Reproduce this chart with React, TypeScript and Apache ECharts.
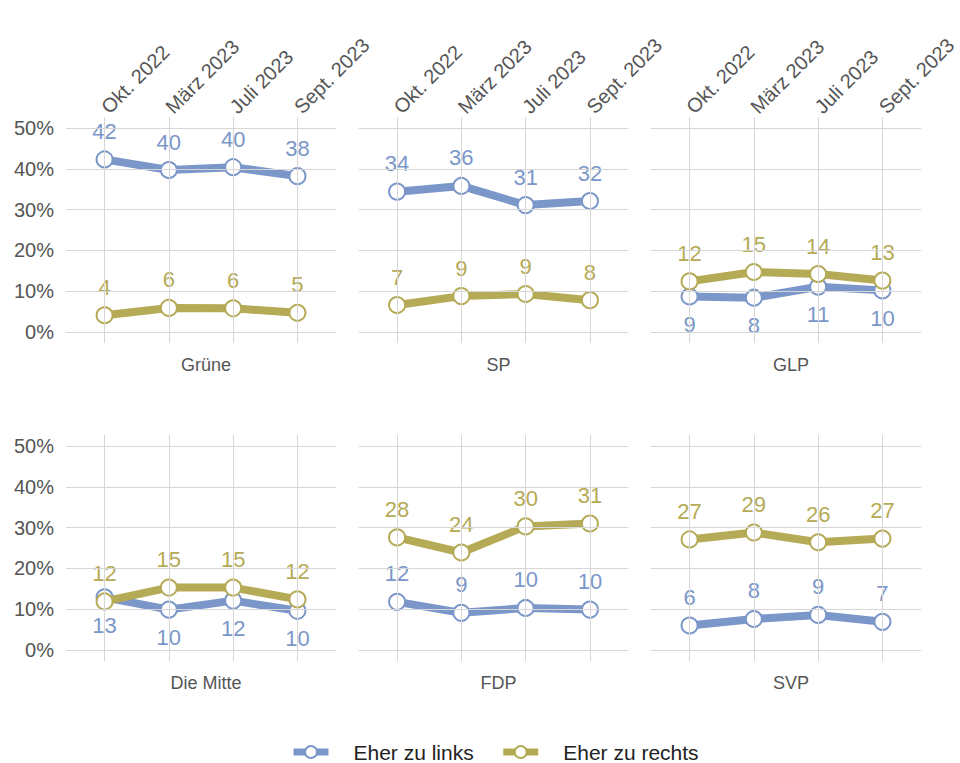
import React, { useEffect, useRef } from 'react';
import * as echarts from 'echarts';

const periods = ['Okt. 2022', 'März 2023', 'Juli 2023', 'Sept. 2023'];
const parties = ['Grüne', 'SP', 'GLP', 'Die Mitte', 'FDP', 'SVP'];
const seriesNames = ['Eher zu links', 'Eher zu rechts'];
const leftValues = [
  [42.3, 39.7, 40.4, 38.2],
  [34.4, 35.8, 31.1, 32.1],
  [8.7, 8.4, 11.1, 10.2],
  [12.9, 9.9, 12.1, 9.6],
  [11.8, 9.1, 10.3, 9.9],
  [6.0, 7.6, 8.6, 6.9],
];
const rightValues = [
  [4.1, 5.9, 5.8, 4.7],
  [6.6, 8.8, 9.3, 7.8],
  [12.4, 14.7, 14.2, 12.6],
  [11.9, 15.3, 15.3, 12.4],
  [27.6, 23.9, 30.3, 31.0],
  [27.1, 28.8, 26.4, 27.3],
];
const leftLabelPos = ['top', 'top', 'bottom', 'bottom', 'top', 'top'];
const rightLabelPos = ['top', 'top', 'top', 'top', 'top', 'top'];
const yTicks = [0, 10, 20, 30, 40, 50];
const xTicks = [1, 2, 3, 4];

const BLUE = '#7B97C9';
const OLIVE = '#B5AA55';
const FONT = '"Liberation Sans", Arial, sans-serif';

export default function App() {
  const ref = useRef<HTMLDivElement>(null);
  useEffect(() => {
    document.body.style.margin = '0';
    const chart = echarts.init(ref.current!, null, { renderer: 'svg' });
    const colLeft = [66, 358.5, 651];
    const rowTop = [117, 435];
    const gw = 270;
    const gh = 226;
    const grids: any[] = [];
    const xAxes: any[] = [];
    const yAxes: any[] = [];
    const series: any[] = [];
    const titles: any[] = [];
    parties.forEach((p, i) => {
      const r = Math.floor(i / 3);
      const c = i % 3;
      grids.push({ left: colLeft[c], top: rowTop[r], width: gw, height: gh });
      xAxes.push({
        type: 'value',
        gridIndex: i,
        min: 0.4,
        max: 4.6,
        position: 'top',
        axisLine: { show: false },
        axisTick: { show: false },
        splitLine: { show: false },
        axisLabel: {
          show: r === 0,
          customValues: xTicks,
          formatter: (v: number) => periods[Math.round(v) - 1] ?? '',
          rotate: 45,
          margin: 7,
          fontSize: 20,
          color: '#555',
          fontFamily: FONT,
        },
      });
      yAxes.push({
        type: 'value',
        gridIndex: i,
        min: -2.7,
        max: 52.7,
        axisLine: { show: false },
        axisTick: { show: false },
        splitLine: { show: false },
        axisLabel: {
          show: c === 0,
          customValues: yTicks,
          formatter: '{value}%',
          margin: 12,
          fontSize: 20,
          color: '#555',
          fontFamily: FONT,
        },
      });
      titles.push({
        text: p,
        left: colLeft[c] + gw / 2,
        top: rowTop[r] + gh + 8,
        textAlign: 'center',
        textStyle: { fontSize: 18, fontWeight: 'normal', color: '#555', fontFamily: FONT },
      });
      series.push({
        type: 'line',
        xAxisIndex: i,
        yAxisIndex: i,
        data: [],
        silent: true,
        z: 1,
        markLine: {
          silent: true,
          symbol: 'none',
          label: { show: false },
          lineStyle: { color: '#d6d6d6', width: 1, type: 'solid' },
          data: [
            ...xTicks.map((x) => ({ xAxis: x })),
            ...yTicks.map((y) => ({ yAxis: y })),
          ],
        },
      });
      const mk = (name: string, vals: number[], color: string, pos: string, z: number) => ({
        type: 'line',
        name,
        xAxisIndex: i,
        yAxisIndex: i,
        z,
        data: vals.map((v, k) => [xTicks[k], v]),
        symbol: 'circle',
        symbolSize: 16,
        showAllSymbol: true,
        lineStyle: { color, width: 8 },
        itemStyle: { color: '#fff', borderColor: color, borderWidth: 2 },
        label: {
          show: true,
          position: pos,
          distance: 8,
          fontSize: 22,
          color,
          fontFamily: FONT,
          formatter: (prm: any) => String(Math.round(prm.value[1])),
        },
        emphasis: { disabled: true },
      });
      series.push(mk(seriesNames[0], leftValues[i], BLUE, leftLabelPos[i], 3));
      series.push(mk(seriesNames[1], rightValues[i], OLIVE, rightLabelPos[i], 4));
    });

    chart.setOption({
      animation: false,
      backgroundColor: '#fff',
      title: titles,
      grid: grids,
      xAxis: xAxes,
      yAxis: yAxes,
      series,
      legend: {
        data: seriesNames,
        left: 285,
        top: 736,
        padding: 5,
        itemWidth: 35,
        itemHeight: 15,
        itemGap: 26,
        lineStyle: { width: 7 },
        formatter: (name: string) => `{g|}${name}`,
        textStyle: {
          fontSize: 21,
          lineHeight: 22,
          color: '#222',
          fontFamily: FONT,
          rich: { g: { width: 20 } },
        },
      },
    });
    return () => chart.dispose();
  }, []);
  return <div ref={ref} style={{ width: 960, height: 763 }} />;
}
